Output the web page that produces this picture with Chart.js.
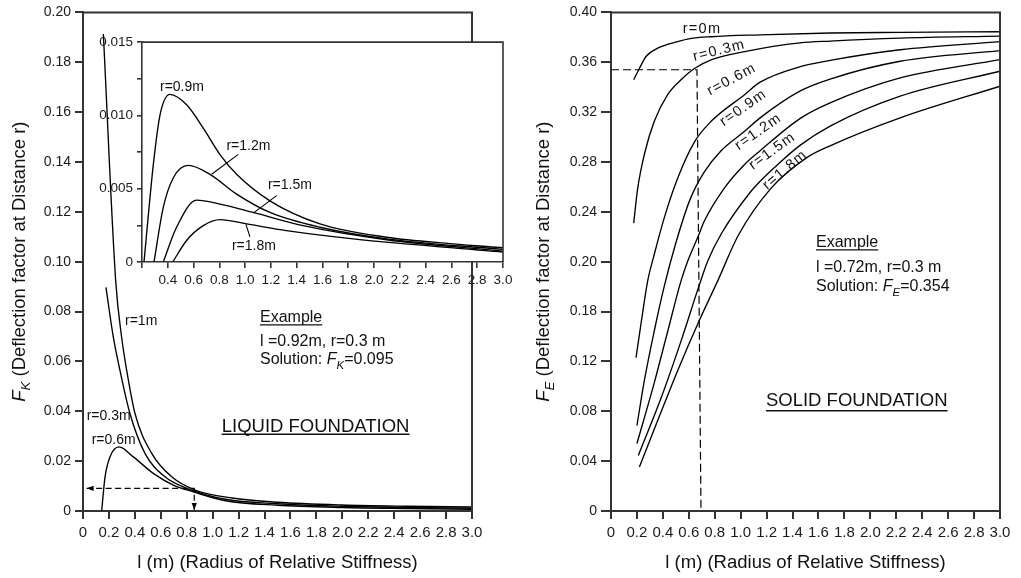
<!DOCTYPE html>
<html>
<head>
<meta charset="utf-8">
<script src="https://cdn.jsdelivr.net/npm/chart.js@4.4.1/dist/chart.umd.min.js"></script>
<style>
  html, body { margin: 0; padding: 0; background: #fff; }
  #wrap { position: relative; width: 1021px; height: 578px; overflow: hidden; background: #fff; }
  #wrap canvas { position: absolute; }
</style>
</head>
<body>
<div id="wrap">
  <canvas id="liquidChart" width="510" height="578" style="left:0px;top:0px"></canvas>
  <canvas id="insetChart" width="440" height="270" style="left:80px;top:30px"></canvas>
  <canvas id="solidChart" width="511" height="578" style="left:510px;top:0px"></canvas>
</div>
<script>
const FONT = '"Liberation Sans", Arial, Helvetica, sans-serif';
const INK = '#000';
const AXIS = '#333';
const TEXT = '#111';

// tick labels
const lTickLabels = ['0', '0.2', '0.4', '0.6', '0.8', '1.0', '1.2', '1.4', '1.6', '1.8', '2.0', '2.2', '2.4', '2.6', '2.8', '3.0'];
const liquidYTickLabels = ['0', '0.02', '0.04', '0.06', '0.08', '0.10', '0.12', '0.14', '0.16', '0.18', '0.20'];
const solidYTickLabels = ['0', '0.04', '0.08', '0.12', '0.18', '0.20', '0.24', '0.28', '0.32', '0.36', '0.40'];
const insetXTickLabels = ['', '0.4', '0.6', '0.8', '1.0', '1.2', '1.4', '1.6', '1.8', '2.0', '2.2', '2.4', '2.6', '2.8', '3.0'];
const insetYTickLabels = ['0', '', '0.005', '', '0.010', '', '0.015'];

// liquid foundation, F_K against l (main panel)
const liquidL1m = [0.157, 0.252, 0.298, 0.337, 0.401, 0.53, 0.684, 0.864, 1.15, 1.5, 2.0, 2.5, 3.0];
const liquidF1m = [0.1913, 0.0924, 0.0697, 0.0564, 0.0391, 0.0231, 0.0137, 0.0084, 0.0052, 0.0035, 0.0024, 0.0019, 0.0016];
const liquidL03 = [0.177, 0.234, 0.285, 0.362, 0.478, 0.632, 0.80, 1.1, 1.5, 2.0, 2.5, 3.0];
const liquidF03 = [0.0897, 0.0697, 0.0564, 0.0391, 0.0231, 0.0137, 0.0091, 0.0047, 0.0029, 0.0019, 0.0014, 0.0011];
const liquidL06 = [0.144, 0.17, 0.208, 0.278, 0.388, 0.542, 0.696, 0.851, 1.1, 1.5, 2.0, 2.5, 3.0];
const liquidF06 = [0, 0.0137, 0.0217, 0.0257, 0.0217, 0.0151, 0.0104, 0.0077, 0.0041, 0.0023, 0.0014, 0.0010, 0.0007];

// liquid foundation, inset (larger r)
const insetL09 = [0.2155, 0.288, 0.34, 0.417, 0.546, 0.675, 0.805, 0.934, 1.192, 1.58, 2.097, 2.613, 3.0];
const insetF09 = [0, 0.00666, 0.01004, 0.01143, 0.01072, 0.00913, 0.00733, 0.00598, 0.00417, 0.0026, 0.00169, 0.00124, 0.00097];
const insetL12 = [0.293, 0.365, 0.443, 0.56, 0.727, 0.934, 1.192, 1.58, 2.097, 3.0];
const insetF12 = [0, 0.00372, 0.00575, 0.00659, 0.00598, 0.00463, 0.00338, 0.00237, 0.00158, 0.00086];
const insetL15 = [0.365, 0.468, 0.623, 0.805, 1.063, 1.45, 2.097, 3.0];
const insetF15 = [0, 0.00237, 0.00422, 0.00395, 0.00338, 0.00248, 0.00152, 0.00074];
const insetL18 = [0.438, 0.546, 0.675, 0.805, 1.011, 1.32, 1.838, 3.0];
const insetF18 = [0, 0.00147, 0.00248, 0.00289, 0.0026, 0.00214, 0.00158, 0.00068];

// solid foundation, F_E against l
const solidL00 = [0.175, 0.219, 0.27, 0.36, 0.514, 0.61, 0.772, 1.15, 1.69, 2.23, 3.0];
const solidF00 = [0.346, 0.355, 0.3646, 0.3713, 0.3766, 0.379, 0.3805, 0.382, 0.3835, 0.384, 0.3845];
const solidL03 = [0.175, 0.206, 0.257, 0.334, 0.437, 0.54, 0.643, 0.772, 1.03, 1.458, 1.69, 2.23, 3.0];
const solidF03 = [0.231, 0.259, 0.286, 0.3126, 0.334, 0.346, 0.355, 0.362, 0.3685, 0.3755, 0.377, 0.3794, 0.381];
const solidL06 = [0.193, 0.231, 0.283, 0.334, 0.41, 0.514, 0.643, 0.772, 1.03, 1.15, 1.46, 1.69, 2.23, 3.0];
const solidF06 = [0.123, 0.150, 0.1846, 0.206, 0.235, 0.267, 0.296, 0.3126, 0.334, 0.344, 0.3565, 0.3615, 0.370, 0.3765];
const solidL09 = [0.2, 0.257, 0.334, 0.41, 0.5, 0.61, 0.72, 0.849, 1.03, 1.15, 1.46, 1.69, 2.23, 3.0];
const solidF09 = [0.0686, 0.1046, 0.1446, 0.18, 0.215, 0.25, 0.272, 0.289, 0.3046, 0.3154, 0.337, 0.3465, 0.3608, 0.3693];
const solidL12 = [0.2, 0.334, 0.437, 0.54, 0.592, 0.674, 0.72, 0.874, 1.03, 1.15, 1.46, 1.69, 2.23, 3.0];
const solidF12 = [0.054, 0.103, 0.144, 0.1846, 0.2006, 0.2208, 0.2326, 0.259, 0.278, 0.289, 0.315, 0.3274, 0.3474, 0.3621];
const solidL15 = [0.211, 0.386, 0.54, 0.68, 0.746, 0.854, 1.08, 1.15, 1.286, 1.46, 1.69, 2.23, 3.0];
const solidF15 = [0.0446, 0.0906, 0.1363, 0.181, 0.2006, 0.223, 0.2565, 0.2645, 0.278, 0.2935, 0.3088, 0.3328, 0.3528];
const solidL18 = [0.219, 0.36, 0.514, 0.68, 0.823, 0.98, 1.235, 1.51, 1.69, 2.23, 3.0];
const solidF18 = [0.0353, 0.0726, 0.1126, 0.1526, 0.1846, 0.2208, 0.259, 0.2835, 0.293, 0.3154, 0.3408];

// worked examples (dashed read-off lines)
const liquidExampleL = [0.028, 0.858, 0.858];
const liquidExampleF = [0.0091, 0.0091, 0.0004];
const solidExampleL = [0, 0.663, 0.694];
const solidExampleF = [0.354, 0.354, 0];

// curve tags
const liquidTags = [
  { text: 'r=1m', l: 0.324, f: 0.076 },
  { text: 'r=0.3m', l: 0.0285, f: 0.038 },
  { text: 'r=0.6m', l: 0.067, f: 0.0284 }
];
const insetTags = [
  { text: 'r=0.9m', l: 0.510, f: 0.01196 },
  { text: 'r=1.2m', l: 1.0256, f: 0.00791, lead: [0.9465, 0.00734, 0.7403, 0.00599] },
  { text: 'r=1.5m', l: 1.3473, f: 0.00527, lead: [1.2442, 0.00453, 1.0628, 0.00333] },
  { text: 'r=1.8m', l: 1.068, f: 0.00108, lead: [1.0062, 0.00257, 1.0372, 0.00171] }
];
const solidTags = [
  { text: 'r=0m', l: 0.702, f: 0.3864, rot: 0 },
  { text: 'r=0.3m', l: 0.834, f: 0.3694, rot: -14 },
  { text: 'r=0.6m', l: 0.931, f: 0.3462, rot: -28 },
  { text: 'r=0.9m', l: 1.0205, f: 0.3234, rot: -35 },
  { text: 'r=1.2m', l: 1.136, f: 0.3042, rot: -35 },
  { text: 'r=1.5m', l: 1.244, f: 0.2888, rot: -36 },
  { text: 'r=1.8m', l: 1.342, f: 0.2736, rot: -40 }
];

function points(ls, fs) {
  return ls.map((l, i) => ({ x: l, y: fs[i] }));
}

function curve(ls, fs) {
  return {
    data: points(ls, fs),
    borderColor: INK,
    borderWidth: 1.35,
    pointRadius: 0,
    fill: false,
    cubicInterpolationMode: 'monotone'
  };
}

function dashed(ls, fs, dash) {
  return {
    data: points(ls, fs),
    borderColor: INK,
    borderWidth: 1.2,
    borderDash: dash,
    pointRadius: 0,
    fill: false,
    tension: 0
  };
}

function makeAxis(cfg) {
  return {
    type: 'linear',
    min: cfg.min,
    max: cfg.max,
    ticks: {
      stepSize: cfg.step,
      autoSkip: false,
      maxRotation: 0,
      minRotation: 0,
      color: '#1a1a1a',
      padding: cfg.pad,
      font: { family: FONT, size: cfg.font },
      callback: (v, i) => cfg.labels[i] ?? ''
    },
    grid: {
      display: true,
      drawOnChartArea: false,
      drawTicks: true,
      tickLength: cfg.tick,
      color: AXIS,
      lineWidth: cfg.lw
    },
    border: { display: true, color: AXIS, width: cfg.lw },
    afterFit: cfg.fit
  };
}

function richWidth(ctx, parts, size) {
  let w = 0;
  for (const p of parts) {
    const fs = p.sub ? size * 0.72 : size;
    ctx.font = (p.italic ? 'italic ' : '') + fs + 'px ' + FONT;
    w += ctx.measureText(p.text).width;
  }
  return w;
}

function drawRich(ctx, parts, x, y, size) {
  let cx = x;
  ctx.textAlign = 'left';
  for (const p of parts) {
    const fs = p.sub ? size * 0.72 : size;
    ctx.font = (p.italic ? 'italic ' : '') + fs + 'px ' + FONT;
    ctx.fillText(p.text, cx, y + (p.sub ? size * 0.28 : 0));
    cx += ctx.measureText(p.text).width;
  }
  return cx - x;
}

function frame(chart, lw) {
  const { ctx, chartArea: a } = chart;
  ctx.save();
  ctx.strokeStyle = AXIS;
  ctx.lineWidth = lw;
  ctx.beginPath();
  ctx.moveTo(a.left - lw / 2, a.top);
  ctx.lineTo(a.right, a.top);
  ctx.lineTo(a.right, a.bottom);
  ctx.stroke();
  ctx.restore();
}

function arrowHead(ctx, tip, from, len, half) {
  const ang = Math.atan2(tip[1] - from[1], tip[0] - from[0]);
  ctx.save();
  ctx.translate(tip[0], tip[1]);
  ctx.rotate(ang);
  ctx.beginPath();
  ctx.moveTo(0, 0);
  ctx.lineTo(-len, -half);
  ctx.lineTo(-len, half);
  ctx.closePath();
  ctx.fillStyle = INK;
  ctx.fill();
  ctx.restore();
}

function px(chart, l, f) {
  return [chart.scales.x.getPixelForValue(l), chart.scales.y.getPixelForValue(f)];
}

function axisTitles(chart, yx, yParts) {
  const { ctx, chartArea: a } = chart;
  ctx.save();
  ctx.fillStyle = TEXT;
  ctx.textBaseline = 'middle';
  ctx.textAlign = 'center';
  ctx.font = '18.5px ' + FONT;
  ctx.fillText('l (m) (Radius of Relative Stiffness)', (a.left + a.right) / 2, a.bottom + 52);
  ctx.translate(yx, (a.top + a.bottom) / 2);
  ctx.rotate(-Math.PI / 2);
  ctx.textBaseline = 'alphabetic';
  const w = richWidth(ctx, yParts, 18.5);
  drawRich(ctx, yParts, -w / 2, 0, 18.5);
  ctx.restore();
}

function exampleBlock(chart, l, fBase, lines, underlineGap) {
  const { ctx } = chart;
  ctx.save();
  ctx.fillStyle = TEXT;
  ctx.strokeStyle = TEXT;
  ctx.textBaseline = 'alphabetic';
  lines.forEach((ln, i) => {
    const [x, y] = px(chart, l, fBase[i]);
    const w = drawRich(ctx, ln, x, y, 16);
    if (i === 0) {
      ctx.lineWidth = 1.2;
      ctx.beginPath();
      ctx.moveTo(x, y + underlineGap);
      ctx.lineTo(x + w, y + underlineGap);
      ctx.stroke();
    }
  });
  ctx.restore();
}

function heading(chart, text, l, f, gap) {
  const { ctx } = chart;
  const [x, y] = px(chart, l, f);
  ctx.save();
  ctx.fillStyle = TEXT;
  ctx.strokeStyle = TEXT;
  ctx.textBaseline = 'alphabetic';
  ctx.textAlign = 'left';
  ctx.font = '18.5px ' + FONT;
  ctx.fillText(text, x, y);
  const w = ctx.measureText(text).width;
  ctx.lineWidth = 1.4;
  ctx.beginPath();
  ctx.moveTo(x, y + gap);
  ctx.lineTo(x + w, y + gap);
  ctx.stroke();
  ctx.restore();
}

const baseOptions = {
  responsive: false,
  animation: false,
  devicePixelRatio: 1,
  events: [],
  plugins: { legend: { display: false }, tooltip: { enabled: false }, title: { display: false } }
};

// ---------- liquid foundation ----------
new Chart(document.getElementById('liquidChart'), {
  type: 'line',
  data: {
    datasets: [
      curve(liquidL1m, liquidF1m),
      curve(liquidL03, liquidF03),
      curve(liquidL06, liquidF06),
      dashed(liquidExampleL, liquidExampleF, [6, 3.5])
    ]
  },
  options: Object.assign({}, baseOptions, {
    layout: { padding: { left: 0, top: 11, right: 38, bottom: 0 } },
    scales: {
      x: makeAxis({ min: 0, max: 3.0, step: 0.2, labels: lTickLabels, pad: 5, tick: 8, font: 15, lw: 2,
        fit: s => { s.height = 67; } }),
      y: makeAxis({ min: 0, max: 0.2, step: 0.02, labels: liquidYTickLabels, pad: 4, tick: 8, font: 14, lw: 2,
        fit: s => { s.width = 83; } })
    }
  }),
  plugins: [{
    id: 'liquidDecor',
    afterDraw(chart) {
      const ctx = chart.ctx;
      frame(chart, 2);
      const n = liquidExampleL.length;
      arrowHead(ctx, px(chart, liquidExampleL[0], liquidExampleF[0]), px(chart, liquidExampleL[1], liquidExampleF[1]), 7, 2.6);
      arrowHead(ctx, px(chart, liquidExampleL[n - 1], liquidExampleF[n - 1]), px(chart, liquidExampleL[n - 2], liquidExampleF[n - 2]), 7, 2.6);
      ctx.save();
      ctx.fillStyle = TEXT;
      ctx.font = '14px ' + FONT;
      ctx.textBaseline = 'middle';
      ctx.textAlign = 'left';
      liquidTags.forEach(t => {
        const [x, y] = px(chart, t.l, t.f);
        ctx.fillText(t.text, x, y);
      });
      ctx.restore();
      exampleBlock(chart, 1.365, [0.0757, 0.0662, 0.0588], [
        [{ text: 'Example' }],
        [{ text: 'l =0.92m, r=0.3 m' }],
        [{ text: 'Solution: ' }, { text: 'F', italic: true }, { text: 'K', italic: true, sub: true }, { text: '=0.095' }]
      ], 2.6);
      heading(chart, 'LIQUID FOUNDATION', 1.0697, 0.0318, 2.6);
      axisTitles(chart, 24.5, [
        { text: 'F', italic: true }, { text: 'K', italic: true, sub: true }, { text: ' (Deflection factor at Distance r)' }
      ]);
    }
  }]
});

// ---------- inset (liquid, larger r) ----------
new Chart(document.getElementById('insetChart'), {
  type: 'line',
  data: {
    datasets: [
      curve(insetL09, insetF09),
      curve(insetL12, insetF12),
      curve(insetL15, insetF15),
      curve(insetL18, insetF18)
    ]
  },
  options: Object.assign({}, baseOptions, {
    layout: { padding: { left: 0, top: 10, right: 17, bottom: 0 } },
    scales: {
      x: makeAxis({ min: 0.2, max: 3.0, step: 0.2, labels: insetXTickLabels, pad: 4, tick: 6, font: 13.5, lw: 1.6,
        fit: s => { s.height = 38; } }),
      y: makeAxis({ min: 0, max: 0.015, step: 0.0025, labels: insetYTickLabels, pad: 4, tick: 5, font: 13.5, lw: 1.6,
        fit: s => { s.width = 62; } })
    }
  }),
  plugins: [{
    id: 'insetDecor',
    beforeDraw(chart) {
      const { ctx, chartArea: a } = chart;
      ctx.save();
      ctx.fillStyle = '#fff';
      ctx.fillRect(a.left, a.top, a.right - a.left, a.bottom - a.top);
      ctx.restore();
    },
    afterDraw(chart) {
      const ctx = chart.ctx;
      frame(chart, 1.6);
      ctx.save();
      ctx.fillStyle = TEXT;
      ctx.strokeStyle = INK;
      ctx.lineWidth = 1.1;
      ctx.font = '14px ' + FONT;
      ctx.textBaseline = 'middle';
      ctx.textAlign = 'center';
      insetTags.forEach(t => {
        const [x, y] = px(chart, t.l, t.f);
        ctx.fillText(t.text, x, y);
        if (t.lead) {
          const p0 = px(chart, t.lead[0], t.lead[1]);
          const p1 = px(chart, t.lead[2], t.lead[3]);
          ctx.beginPath();
          ctx.moveTo(p0[0], p0[1]);
          ctx.lineTo(p1[0], p1[1]);
          ctx.stroke();
        }
      });
      ctx.restore();
    }
  }]
});

// ---------- solid foundation ----------
new Chart(document.getElementById('solidChart'), {
  type: 'line',
  data: {
    datasets: [
      curve(solidL00, solidF00),
      curve(solidL03, solidF03),
      curve(solidL06, solidF06),
      curve(solidL09, solidF09),
      curve(solidL12, solidF12),
      curve(solidL15, solidF15),
      curve(solidL18, solidF18),
      dashed(solidExampleL, solidExampleF, [8, 4])
    ]
  },
  options: Object.assign({}, baseOptions, {
    layout: { padding: { left: 0, top: 11, right: 21, bottom: 0 } },
    scales: {
      x: makeAxis({ min: 0, max: 3.0, step: 0.2, labels: lTickLabels, pad: 5, tick: 8, font: 15, lw: 2,
        fit: s => { s.height = 67; } }),
      y: makeAxis({ min: 0, max: 0.4, step: 0.04, labels: solidYTickLabels, pad: 4, tick: 10, font: 14, lw: 2,
        fit: s => { s.width = 101; } })
    }
  }),
  plugins: [{
    id: 'solidDecor',
    afterDraw(chart) {
      const ctx = chart.ctx;
      frame(chart, 2);
      ctx.save();
      ctx.fillStyle = TEXT;
      ctx.font = '14.5px ' + FONT;
      ctx.textBaseline = 'middle';
      ctx.textAlign = 'center';
      try { ctx.letterSpacing = '1.3px'; } catch (e) {}
      solidTags.forEach(t => {
        const [x, y] = px(chart, t.l, t.f);
        ctx.save();
        ctx.translate(x, y);
        ctx.rotate(t.rot * Math.PI / 180);
        ctx.fillText(t.text, 0, 0);
        ctx.restore();
      });
      try { ctx.letterSpacing = '0px'; } catch (e) {}
      ctx.restore();
      exampleBlock(chart, 1.581, [0.2116, 0.1918, 0.1763], [
        [{ text: 'Example' }],
        [{ text: 'l =0.72m, r=0.3 m' }],
        [{ text: 'Solution: ' }, { text: 'F', italic: true }, { text: 'E', italic: true, sub: true }, { text: '=0.354' }]
      ], 2.6);
      heading(chart, 'SOLID FOUNDATION', 1.195, 0.084, 4.5);
      axisTitles(chart, 39, [
        { text: 'F', italic: true }, { text: 'E', italic: true, sub: true }, { text: ' (Deflection factor at Distance r)' }
      ]);
    }
  }]
});
</script>
</body>
</html>
